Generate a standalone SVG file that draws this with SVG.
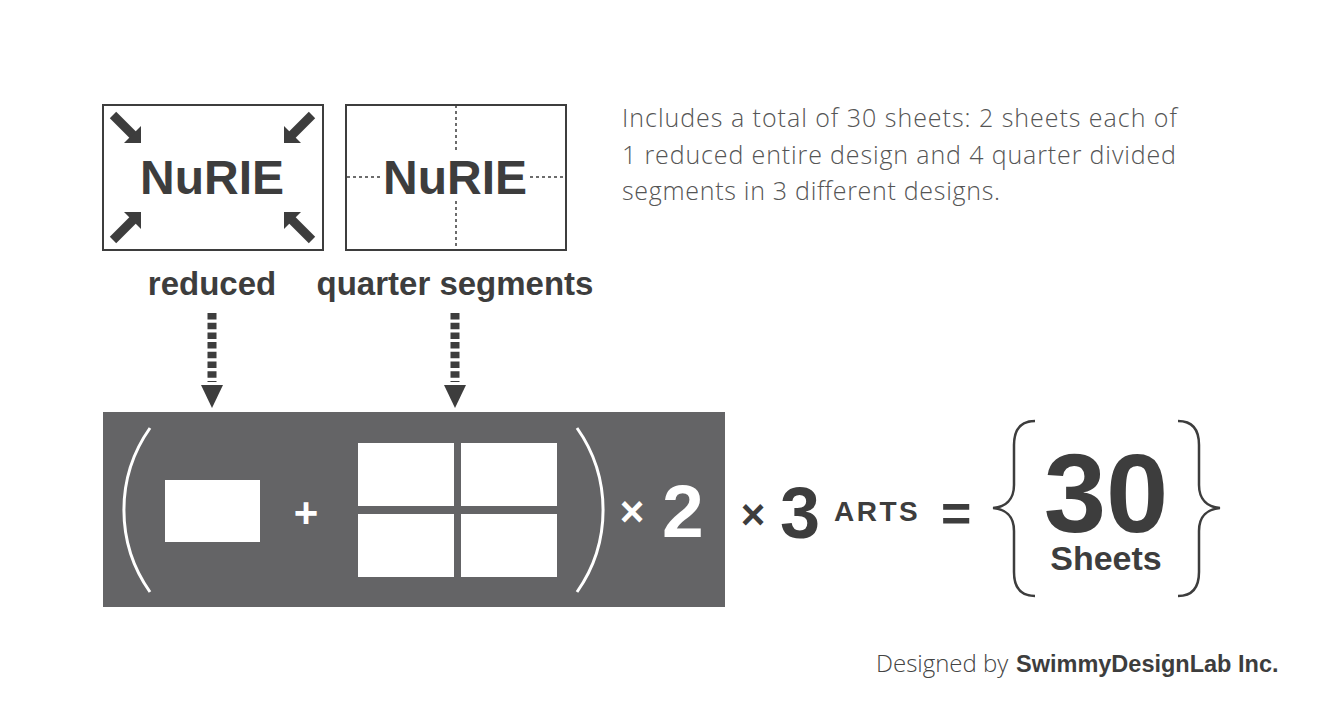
<svg xmlns="http://www.w3.org/2000/svg" width="1326" height="726" viewBox="0 0 1326 726">
<style>
.b{font-family:"Liberation Sans",Arial,sans-serif;font-weight:bold;fill:#3d3d3d}
.w{fill:#ffffff}
.lt{font-family:"Open Sans",Lato,sans-serif;font-weight:300;fill:#555555}
.box{fill:#ffffff;stroke:#3d3d3d;stroke-width:2}
.dash{stroke:#3d3d3d;stroke-width:1.5;stroke-dasharray:3 3;fill:none}
.par{fill:none;stroke:#ffffff;stroke-width:3}
.brace{fill:none;stroke:#3d3d3d;stroke-width:2.5}
.ah{fill:#3d3d3d}
</style>
<defs>
<g id="pin">
<polygon points="0,0 0,-17 -17,0" fill="#3d3d3d"/>
<line x1="-28" y1="-28" x2="-8" y2="-8" stroke="#3d3d3d" stroke-width="9"/>
</g>
</defs>
<rect width="1326" height="726" fill="#ffffff"/>

<g id="node-reduced-card">
<rect class="box" x="103" y="105" width="220" height="145"/>
<use href="#pin" transform="translate(141,143)"/>
<use href="#pin" transform="translate(284,143) scale(-1,1)"/>
<use href="#pin" transform="translate(141,212) scale(1,-1)"/>
<use href="#pin" transform="translate(284,212) scale(-1,-1)"/>
<text class="b" x="212" y="194" font-size="48" text-anchor="middle">NuRIE</text>
</g>

<g id="node-quarter-card">
<rect class="box" x="346" y="105" width="220" height="145"/>
<line class="dash" x1="456" y1="105" x2="456" y2="153"/>
<line class="dash" x1="456" y1="201" x2="456" y2="250"/>
<line class="dash" x1="347" y1="177" x2="380" y2="177"/>
<line class="dash" x1="530" y1="177" x2="565" y2="177"/>
<text class="b" x="455" y="194" font-size="48" text-anchor="middle">NuRIE</text>
</g>

<g id="node-description">
<text class="lt" font-size="25" x="622" y="127" textLength="555">Includes a total of 30 sheets: 2 sheets each of</text>
<text class="lt" font-size="25" x="622" y="164" textLength="554">1 reduced entire design and 4 quarter divided</text>
<text class="lt" font-size="25" x="622" y="200" textLength="378">segments in 3 different designs.</text>
</g>

<g id="node-label-reduced">
<text class="b" x="212" y="295" font-size="33" text-anchor="middle">reduced</text>
</g>
<g id="node-label-quarter">
<text class="b" x="455" y="295" font-size="33" text-anchor="middle">quarter segments</text>
</g>

<g id="connectors">
<line x1="212" y1="313" x2="212" y2="382" stroke="#3d3d3d" stroke-width="9" stroke-dasharray="6.5 3.2"/>
<polygon class="ah" points="201,385 223,385 212,408"/>
<line x1="455" y1="313" x2="455" y2="382" stroke="#3d3d3d" stroke-width="9" stroke-dasharray="6.5 3.2"/>
<polygon class="ah" points="444,385 466,385 455,408"/>
</g>

<g id="node-formula-panel">
<rect x="103" y="412" width="622" height="195" fill="#646466"/>
<path class="par" d="M150,428 A142,142 0 0 0 150,592"/>
<path class="par" d="M577,428 A142,142 0 0 1 577,592"/>
<rect class="w" x="165" y="480" width="95" height="62"/>
<text class="b" x="306" y="527" font-size="42" text-anchor="middle" style="fill:#fff">+</text>
<rect class="w" x="358" y="443" width="96" height="63"/>
<rect class="w" x="461" y="443" width="96" height="63"/>
<rect class="w" x="358" y="514" width="96" height="63"/>
<rect class="w" x="461" y="514" width="96" height="63"/>
<text class="b" x="632" y="526" font-size="42" text-anchor="middle" style="fill:#fff">×</text>
<text class="b" x="662" y="537" font-size="75" style="fill:#fff">2</text>
</g>

<g id="node-times-3">
<text class="b" x="753" y="529" font-size="42" text-anchor="middle">×</text>
<text class="b" x="780" y="538" font-size="72">3</text>
<text class="b" x="834" y="521" font-size="28" letter-spacing="2.5">ARTS</text>
</g>

<g id="node-equals">
<text class="b" x="941" y="531" font-size="52">=</text>
</g>

<g id="node-result">
<path class="brace" d="M1035,421 C1020,421 1014,430 1014,445 L1014,485 C1014,500 1005,507 993,508 C1005,509 1014,516 1014,531 L1014,572 C1014,587 1020,596 1035,596"/>
<path class="brace" transform="translate(2213,0) scale(-1,1)" d="M1035,421 C1020,421 1014,430 1014,445 L1014,485 C1014,500 1005,507 993,508 C1005,509 1014,516 1014,531 L1014,572 C1014,587 1020,596 1035,596"/>
<text class="b" x="1106" y="532" font-size="112" text-anchor="middle">30</text>
<text class="b" x="1106" y="570" font-size="34" text-anchor="middle">Sheets</text>
</g>

<g id="node-credit">
<text x="876" y="672" font-size="24"><tspan class="lt" style="fill:#444">Designed by </tspan><tspan class="b" font-size="23.5" x="1016">SwimmyDesignLab Inc.</tspan></text>
</g>
</svg>
